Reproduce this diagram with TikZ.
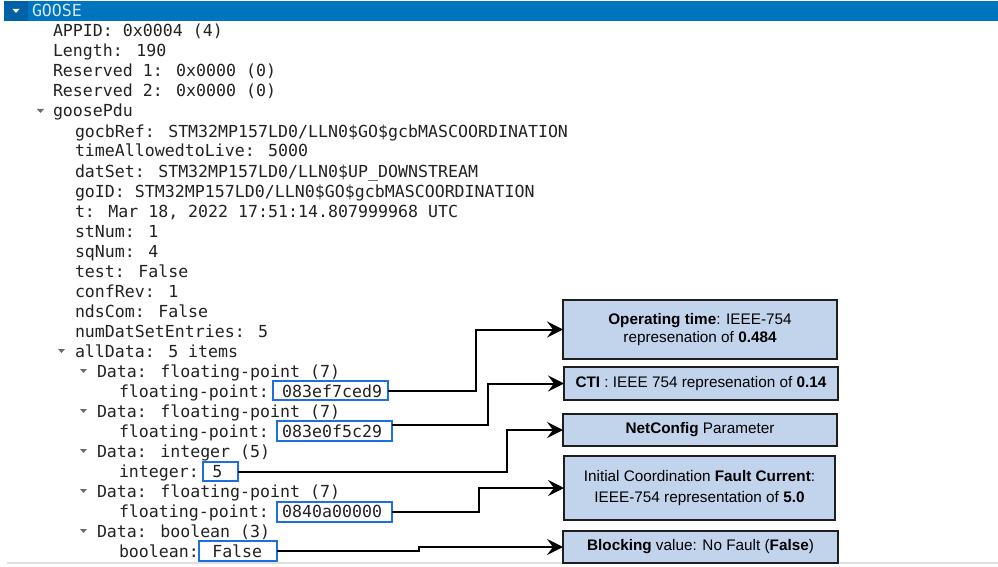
\documentclass[tikz,border=0pt]{standalone}
\usepackage{fontspec}
\setmainfont{Liberation Sans}
\newfontfamily\treefont{DejaVu Sans Mono}
\usetikzlibrary{arrows.meta}
\definecolor{headerblue}{HTML}{0075BF}
\definecolor{headerdark}{HTML}{0062A6}
\definecolor{goosetext}{HTML}{D5E8F7}
\definecolor{treetext}{HTML}{222222}
\definecolor{twistgray}{HTML}{6A6A6A}
\definecolor{valblue}{HTML}{1C6FE0}
\definecolor{boxfill}{HTML}{C2D3EC}
\definecolor{boxline}{HTML}{1E1E1E}
\begin{document}
\begin{tikzpicture}[x=1pt,y=-1pt,
  row/.style={anchor=base west, inner sep=0pt, outer sep=0pt, text=treetext,
    font=\treefont\fontsize{16.6}{20}\selectfont},
  valbox/.style={draw=valblue, line width=2pt, inner sep=0pt, outer sep=0pt},
  infobox/.style={draw=boxline, fill=boxfill, line width=2pt, inner sep=0pt, outer sep=0pt,
    align=center, text=black, font=\fontsize{15.3}{18.4}\selectfont},
  conn/.style={line width=2pt, draw=black, -{Stealth[length=16pt,width=16pt,inset=6pt]}},
  twisty/.style={fill=twistgray}]
\useasboundingbox (0,0) rectangle (998,567);
% header bar
\fill[headerblue] (4,1) rectangle (998,21);
\fill[headerdark] (4,1) rectangle (28,21);
\fill[white] (12.5,9) -- (19.5,9) -- (16,13) -- cycle;
\node[row, text=goosetext] (hdr) at (32,17) {GOOSE};
% bottom separator
\draw[black!12, line width=1.2pt] (7,563) -- (998,563);
% tree rows
\node[row] (r0) at (53,37) {APPID: 0x0004 (4)};
\node[row] (r1) at (53,57) {Length: 190};
\node[row] (r2) at (53,77) {Reserved 1: 0x0000 (0)};
\node[row] (r3) at (53,97) {Reserved 2: 0x0000 (0)};
\node[row] (r4) at (53,117) {goosePdu};
\node[row] (r5) at (75,137) {gocbRef: STM32MP157LD0/LLN0\$GO\$gcbMASCOORDINATION};
\node[row] (r6) at (75,157) {timeAllowedtoLive: 5000};
\node[row] (r7) at (75,177) {datSet: STM32MP157LD0/LLN0\$UP\_DOWNSTREAM};
\node[row] (r8) at (75,197) {goID: STM32MP157LD0/LLN0\$GO\$gcbMASCOORDINATION};
\node[row] (r9) at (75,217) {t: Mar 18, 2022 17:51:14.807999968 UTC};
\node[row] (r10) at (75,237) {stNum: 1};
\node[row] (r11) at (75,257) {sqNum: 4};
\node[row] (r12) at (75,277) {test: False};
\node[row] (r13) at (75,297) {confRev: 1};
\node[row] (r14) at (75,317) {ndsCom: False};
\node[row] (r15) at (75,337) {numDatSetEntries: 5};
\node[row] (r16) at (75,357) {allData: 5 items};
\node[row] (r17) at (97,377) {Data: floating-point (7)};
\node[row] (r18) at (119,397) {floating-point: 083ef7ced9};
\node[row] (r19) at (97,417) {Data: floating-point (7)};
\node[row] (r20) at (119,437) {floating-point: 083e0f5c29};
\node[row] (r21) at (97,457) {Data: integer (5)};
\node[row] (r22) at (119,477) {integer: 5};
\node[row] (r23) at (97,497) {Data: floating-point (7)};
\node[row] (r24) at (119,517) {floating-point: 0840a00000};
\node[row] (r25) at (97,537) {Data: boolean (3)};
\node[row] (r26) at (119,557) {boolean: False};
% expander triangles
\foreach \cx/\cy in {40.5/111, 61.5/351, 83.5/371, 83.5/411, 83.5/451, 83.5/491, 83.5/531}
  \fill[twisty] (\cx-3.5,\cy-2) -- (\cx+3.5,\cy-2) -- (\cx,\cy+2) -- cycle;
% value boxes
\node[valbox, minimum width=115pt, minimum height=19pt] (A) at (330.5,390.5) {};
\node[valbox, minimum width=115pt, minimum height=20pt] (B) at (334.5,431) {};
\node[valbox, minimum width=35pt, minimum height=19pt] (C) at (220.5,471.5) {};
\node[valbox, minimum width=115pt, minimum height=20pt] (D) at (334.5,512) {};
\node[valbox, minimum width=78pt, minimum height=20pt] (E) at (238,551) {};
% info boxes
\node[infobox, minimum width=274pt, minimum height=59pt] (T1) at (700,329.5)
  {\textbf{Operating time}: IEEE-754\\represenation of \textbf{0.484}};
\node[infobox, minimum width=274pt, minimum height=33pt] (T2) at (701,383.5)
  {\textbf{CTI} : IEEE 754 represenation of \textbf{0.14}};
\node[infobox, minimum width=274pt, minimum height=32pt] (T3) at (700,430)
  {\textbf{NetConfig} Parameter};
\node[infobox, minimum width=271pt, minimum height=64pt] (T4) at (699.5,488)
  {Initial Coordination \textbf{Fault Current}:\\[2.3pt]IEEE-754 representation of \textbf{5.0}};
\node[infobox, minimum width=275pt, minimum height=32pt] (T5) at (700.5,547)
  {\textbf{Blocking} value: No Fault (\textbf{False})};
% connectors
\coordinate (v1) at (476,0);
\coordinate (v2) at (488,0);
\coordinate (v3) at (507,0);
\coordinate (v4) at (479,0);
\coordinate (v5) at (419,0);
\coordinate (Bout) at ([yshift=6pt]B.east);
\draw[conn] (A.east) -- (A.east -| v1) |- (T1.west);
\draw[conn] (Bout) -- (Bout -| v2) |- (T2.west);
\draw[conn] (C.east) -- (C.east -| v3) |- (T3.west);
\draw[conn] (D.east) -- (D.east -| v4) |- (T4.west);
\draw[conn] (E.east) -- (E.east -| v5) |- (T5.west);
\end{tikzpicture}
\end{document}
